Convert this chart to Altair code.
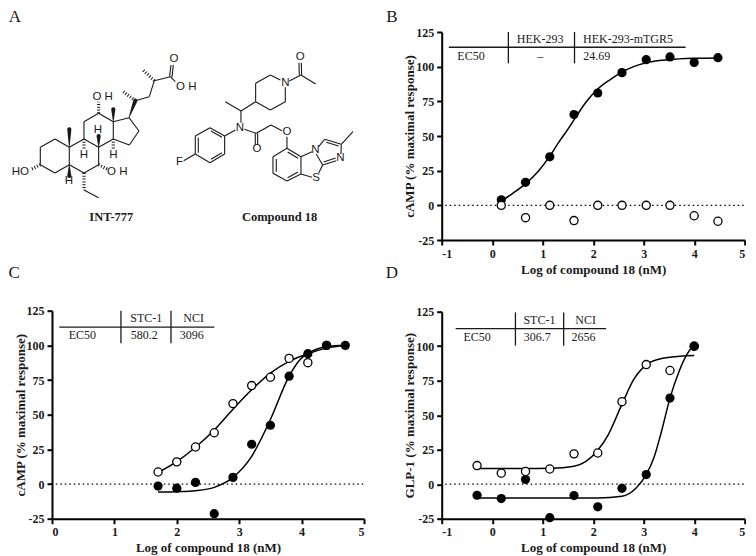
import altair as alt
import pandas as pd

SERIF = "Liberation Serif"
SANS = "Liberation Sans"
INK = "#1a1a1a"

# ---------- panel B ----------
b_x = [0.18, 0.66, 1.14, 1.62, 2.09, 2.57, 3.05, 3.52, 4.0, 4.47]
b_filled = [4, 16.6, 35, 65.5, 81, 95.7, 105, 107, 103, 106.5]
b_open = [0, -8.9, 0, -11, 0, 0, 0, 0, -7.5, -11.5]
b_curve_x = [0.18, 0.4, 0.66, 0.9, 1.13, 1.3, 1.5, 1.6, 1.86, 2.08, 2.33, 2.57, 2.8, 3.05, 3.5, 4.0, 4.47]
b_curve_y = [3, 8.5, 15.5, 24, 34.9, 44.5, 55, 60.5, 74.5, 83.5, 90.5, 96, 100, 102.8, 105, 106, 106.3]

# ---------- panel C ----------
c_x = [1.7, 2.0, 2.3, 2.6, 2.9, 3.2, 3.5, 3.8, 4.1, 4.4, 4.7]
c_filled = [-1.5, -3, 1.2, -21.4, 4.8, 28.7, 42.4, 77.8, 94, 100, 100]
c_open_x = [1.7, 2.0, 2.3, 2.6, 2.9, 3.2, 3.5, 3.8, 4.1, 4.4]
c_open = [8.7, 16, 26.7, 37, 58, 71, 77, 90.6, 87.5, 100]
c_curve_open_x = [1.7, 2.0, 2.3, 2.6, 2.9, 3.2, 3.5, 3.8, 4.1, 4.4, 4.7]
c_curve_open_y = [8.4, 16.2, 26.5, 39, 54, 68, 80, 88.5, 94, 98, 100]
c_curve_fill_x = [1.7, 2.0, 2.3, 2.6, 2.9, 3.2, 3.5, 3.8, 3.98, 4.1, 4.4, 4.7]
c_curve_fill_y = [-5.8, -5.5, -4.8, -2.4, 4.8, 20, 46.5, 77.8, 90, 94.2, 99, 100]

# ---------- panel D ----------
d_x = [-0.3, 0.18, 0.66, 1.14, 1.62, 2.09, 2.57, 3.05, 3.52, 4.0]
d_filled = [-8, -10.4, 3.4, -24.3, -8.2, -16.4, -3, 7, 62.4, 100]
d_open = [13.5, 8, 9.2, 11, 22, 22.6, 59.8, 86.7, 82.4, 100]
d_curve_open_x = [-0.3, 0.18, 0.66, 1.14, 1.62, 2.09, 2.3, 2.57, 2.8, 3.05, 3.3, 3.52, 4.0]
d_curve_open_y = [11.3, 11.3, 11.3, 11.5, 13, 24.6, 36, 58, 75.7, 86.5, 90.6, 92, 93.2]
d_curve_fill_x = [-0.3, 0.5, 1.5, 2.09, 2.57, 2.85, 3.05, 3.2, 3.35, 3.52, 3.7, 3.85, 4.0]
d_curve_fill_y = [-10, -10, -10, -10, -8.7, -2.7, 7, 19, 38, 62.4, 81.7, 93.7, 101]

# ---------- small tables in the plots: x1, y1, x2, y2 ----------
b_table = [(-0.86, 114, 3.83, 114), (0.32, 125, 0.32, 102.4), (1.63, 125, 1.63, 102.4)]
c_table = [(0.117, 113.2, 2.6, 113.2), (1.105, 125, 1.105, 101.5), (1.907, 125, 1.907, 101.5)]
d_table = [(-0.725, 112.7, 2.255, 112.7), (0.46, 124.5, 0.46, 100.4), (1.415, 124.5, 1.415, 100.4)]
b_cells = [("HEK-293", 0.95, 120), ("HEK-293-mTGR5", 2.69, 120), ("EC50", -0.42, 108), ("–", 0.95, 108), ("24.69", 2.07, 108)]
c_cells = [("STC-1", 1.51, 119.5), ("NCI", 2.27, 119.5), ("EC50", 0.486, 107.5), ("580.2", 1.48, 107.5), ("3096", 2.24, 107.5)]
d_cells = [("STC-1", 0.935, 119), ("NCI", 1.85, 119), ("EC50", -0.3, 107), ("306.7", 0.89, 107), ("2656", 1.81, 107)]

# ---------- panel letters ----------
b_letter = [("B", -1.0 - 49.7 / 50.5, 135.5)]
c_letter = [("C", -0.605, 152)]
d_letter = [("D", -1.0 - 49.7 / 50.5, 153)]

# ---------- panel A, INT-777 (reading grid: x/3, 50 + y/3) ----------
int_bonds = [
    (164,267,120,292),(120,292,120,344),(120,344,164,369),(164,369,207,344),(207,344,207,292),(207,292,164,267),
    (207,292,251,267),(251,267,295,292),(295,292,295,344),(295,344,251,369),(251,369,207,344),
    (251,267,251,215),(251,215,295,190),(295,190,339,215),(339,215,339,267),(339,267,295,292),
    (339,215,386,203),(386,203,416,243),(416,243,387,285),(387,285,339,267),
    (405,152,447,140),(447,140,462,92),(462,92,510,80),(508,80,512,45),(515,82,519,45),(510,80,525,95),
    (251,420,295,443),
]
int_hash = [
    (405,152,365,122),(462,92,428,60),(295,190,295,155),(120,344,95,357),(295,344,322,358),
    (251,369,251,420),(251,267,251,300),(339,267,339,300),
]
int_wedge = [
    (386,203,405,152),(339,215,339,178),(207,292,207,238),(207,344,207,378),(295,292,295,258),
]
int_atoms = [
    ("O",521,28),("O H",558,112),("O H",307,140),("HO",60,367),("O H",351,367),
    ("H",206,392),("H",251,316),("H",293,240),("H",339,316),
]
# ---------- panel A, Compound 18 (reading grid: 170 + x/3, 50 + y/3) ----------
cmp_bonds = [
    (330,90,300,75),(300,75,256,100),(256,100,256,155),(256,155,300,180),(300,180,345,155),(345,155,345,112),
    (357,93,392,75),(392,75,436,102),(387,75,386,38),(394,75,393,38),
    (256,155,212,183),(212,183,165,155),(212,183,212,218),
    (195,240,163,258),(163,258,119,233),(119,233,75,258),(75,258,75,312),(75,312,119,338),(119,338,163,312),(163,312,163,258),
    (122,243,155,262),(84,263,84,308),(122,328,155,308),(75,312,40,332),
    (222,238,258,250),(255,250,255,285),(262,250,262,285),(258,250,302,225),(302,225,335,242),(350,260,350,295),
    (350,295,392,320),(392,320,392,372),(392,372,350,393),(350,393,308,370),(308,370,308,320),(308,320,350,295),
    (318,327,318,365),(352,306,383,325),(352,383,383,366),
    (392,320,425,305),(392,372,425,382),(445,370,457,345),(438,312,457,345),
    (445,290,463,268),(463,268,513,283),(468,277,505,288),(513,283,512,312),(498,332,457,345),(496,324,460,336),(513,283,548,245),
]
cmp_atoms = [
    ("O",390,22),("N",345,100),("N",209,233),("F",28,337),("O",260,297),("O",350,245),
    ("N",435,300),("S",437,383),("N",510,325),
]
a_names = [("INT-777", 111, 216.7), ("Compound 18", 279.3, 216.7)]
a_letter = [("A", 14.5, 17)]


def segs(rows):
    return pd.DataFrame(rows, columns=["x", "y", "x2", "y2"])


def rescale(rows, x0):
    return [(x0 + a / 3, 50 + b / 3, x0 + c / 3, 50 + d / 3) for a, b, c, d in rows]


def rescale_text(rows, x0):
    return [(t, x0 + a / 3, 50 + b / 3) for t, a, b in rows]


def cells(rows):
    return pd.DataFrame(rows, columns=["t", "x", "y"])


def plot_panel(xdom, ytitle, xticks, table, cell_rows, letter, zero_from, pts_filled, pts_open, curves, open_on_top, width, yrange):
    xs = alt.Scale(domain=xdom, nice=False, zero=False)
    ys = alt.Scale(domain=[-25, 125], nice=False, zero=False, range=yrange)
    common = dict(domainColor="black", domainWidth=2, tickColor="black", tickWidth=2, tickSize=5,
                  labelFont=SERIF, labelFontWeight="bold", labelFontSize=12, labelColor=INK, labelPadding=3,
                  titleFont=SERIF, titleFontWeight="bold", titleFontSize=13, titleColor=INK, grid=False,
                  labelExpr="'' + datum.value")
    x_axis = alt.Axis(title="Log of compound 18 (nM)", values=xticks, titlePadding=4, **common)
    y_axis = alt.Axis(title=ytitle, values=[-25, 0, 25, 50, 75, 100, 125], titlePadding=-1, **common)
    X = lambda f: alt.X(f, type="quantitative", scale=xs, axis=x_axis)
    Y = lambda f: alt.Y(f, type="quantitative", scale=ys, axis=y_axis)

    zero = alt.Chart(pd.DataFrame({"x": [zero_from], "x2": [xdom[1]], "y": [0]})).mark_rule(
        color="black", strokeWidth=1.2, strokeDash=[1.5, 3]
    ).encode(x=X("x"), x2="x2:Q", y=Y("y"))
    tbl = alt.Chart(segs(table)).mark_rule(color=INK, strokeWidth=1.3).encode(
        x=X("x"), y=Y("y"), x2="x2:Q", y2="y2:Q")
    txt = alt.Chart(cells(cell_rows)).mark_text(font=SERIF, fontSize=12, color=INK, baseline="middle").encode(
        x=X("x"), y=Y("y"), text="t:N")
    let = alt.Chart(cells(letter)).mark_text(font=SERIF, fontSize=17, color=INK, baseline="middle").encode(
        x=X("x"), y=Y("y"), text="t:N")
    lines = [
        alt.Chart(pd.DataFrame({"x": cx, "y": cy})).mark_line(color="black", strokeWidth=1.5, interpolate="monotone").encode(
            x=X("x"), y=Y("y"))
        for cx, cy in curves
    ]
    fill = alt.Chart(pd.DataFrame({"x": pts_filled[0], "y": pts_filled[1]})).mark_circle(
        color="black", size=85, opacity=1).encode(x=X("x"), y=Y("y"))
    opn = alt.Chart(pd.DataFrame({"x": pts_open[0], "y": pts_open[1]})).mark_circle(
        fill="white", stroke="black", strokeWidth=1.3, size=66, opacity=1).encode(x=X("x"), y=Y("y"))
    marks = [fill, opn] if open_on_top else [opn, fill]
    return alt.layer(zero, tbl, txt, let, *lines, *marks).properties(width=width, height=208)


# panel A: drawn in a grid matching the picture
ax = alt.Scale(domain=[51.7, 363.7], nice=False, zero=False)
ay = alt.Scale(domain=[240, 32], nice=False, zero=False)
AX = lambda f: alt.X(f, type="quantitative", scale=ax, axis=None)
AY = lambda f: alt.Y(f, type="quantitative", scale=ay, axis=None)

bonds = segs(rescale(int_bonds, 0) + rescale(cmp_bonds, 170))
hashes = segs(rescale(int_hash, 0))
wedge_rows = []
for i, (x, y, x2, y2) in enumerate(rescale(int_wedge, 0)):
    wedge_rows.append((i, 0, x, y, 0.6))
    wedge_rows.append((i, 1, x2, y2, 4.2))
wedges = pd.DataFrame(wedge_rows, columns=["id", "o", "x", "y", "w"])
atoms = cells(rescale_text(int_atoms, 0) + rescale_text(cmp_atoms, 170))

panel_a = alt.layer(
    alt.Chart(bonds).mark_rule(color=INK, strokeWidth=1.1).encode(x=AX("x"), y=AY("y"), x2="x2:Q", y2="y2:Q"),
    alt.Chart(hashes).mark_rule(color=INK, strokeWidth=3.2, strokeDash=[1, 1.8]).encode(x=AX("x"), y=AY("y"), x2="x2:Q", y2="y2:Q"),
    alt.Chart(wedges).mark_trail(color=INK).encode(
        x=AX("x"), y=AY("y"), detail="id:N", order="o:Q", size=alt.Size("w:Q", scale=None)),
    alt.Chart(atoms).mark_text(font=SANS, fontSize=11.5, color=INK, baseline="middle").encode(x=AX("x"), y=AY("y"), text="t:N"),
    alt.Chart(cells(a_names)).mark_text(font=SERIF, fontWeight="bold", fontSize=12.5, color=INK, baseline="middle").encode(
        x=AX("x"), y=AY("y"), text="t:N"),
    alt.Chart(cells(a_letter)).mark_text(font=SERIF, fontSize=17, color=INK, baseline="middle").encode(
        x=AX("x"), y=AY("y"), text="t:N"),
).properties(width=312, height=208)

panel_b = plot_panel([-1, 5], "cAMP (% maximal response)", [-1, 0, 1, 2, 3, 4, 5], b_table, b_cells, b_letter, -0.93,
                     (b_x, b_filled), (b_x, b_open), [(b_curve_x, b_curve_y)], True, 303, [208, 0])
panel_c = plot_panel([0, 5], "cAMP (% maximal response)", [0, 1, 2, 3, 4, 5], c_table, c_cells, c_letter, 0.06,
                     (c_x, c_filled), (c_open_x, c_open),
                     [(c_curve_open_x, c_curve_open_y), (c_curve_fill_x, c_curve_fill_y)], False, 312, [208, 0])
panel_d = plot_panel([-1, 5], "GLP-1 (% maximal response)", [-1, 0, 1, 2, 3, 4, 5], d_table, d_cells, d_letter, -0.93,
                     (d_x, d_filled), (d_x, d_open),
                     [(d_curve_open_x, d_curve_open_y), (d_curve_fill_x, d_curve_fill_y)], False, 303, [208, 1])

chart = alt.concat(
    panel_a, panel_b, panel_c, panel_d, columns=2, spacing={"row": 70.7, "column": 77.7}, bounds="flush", padding=0
).configure_view(stroke=None)

chart.save("out.html", embed_options={"renderer": "svg", "actions": False})
